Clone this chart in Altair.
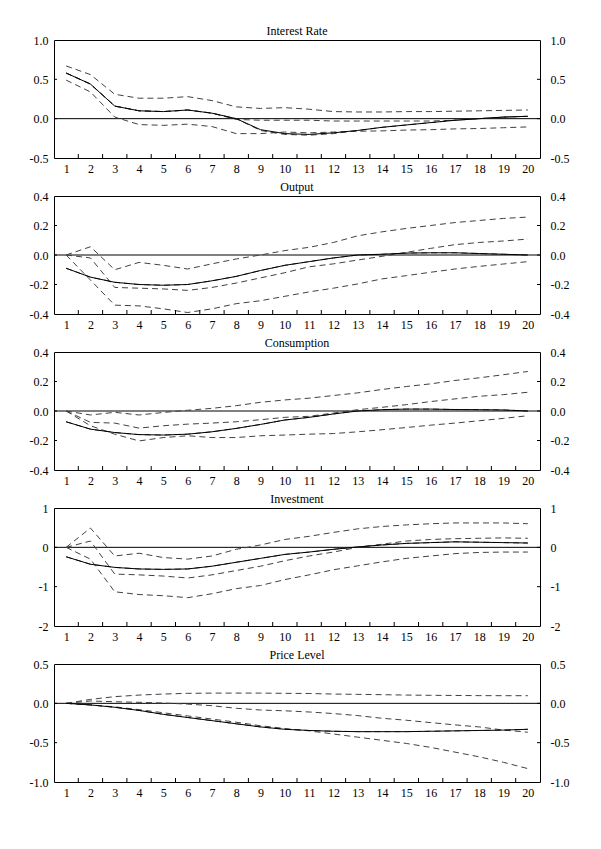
import altair as alt
import pandas as pd

periods = list(range(1, 21))

# Interest Rate
ir_main = [0.58, 0.44, 0.16, 0.10, 0.09, 0.11, 0.07, 0.00, -0.14, -0.19, -0.20, -0.18, -0.15, -0.11, -0.08, -0.05, -0.02, 0.00, 0.02, 0.03]
ir_up = [0.67, 0.56, 0.31, 0.26, 0.26, 0.28, 0.23, 0.15, 0.13, 0.14, 0.12, 0.09, 0.085, 0.085, 0.09, 0.09, 0.095, 0.10, 0.105, 0.11]
ir_mid = [0.58, 0.44, 0.16, 0.10, 0.09, 0.11, 0.07, -0.01, -0.02, -0.02, -0.02, -0.03, -0.03, -0.03, -0.03, -0.03, -0.02, 0.00, 0.02, 0.03]
ir_lo = [0.49, 0.34, 0.02, -0.075, -0.085, -0.07, -0.10, -0.19, -0.19, -0.17, -0.18, -0.17, -0.16, -0.155, -0.145, -0.14, -0.13, -0.125, -0.115, -0.105]
ir_alt = [0.58, 0.44, 0.16, 0.10, 0.09, 0.11, 0.07, 0.00, -0.15, -0.20, -0.21, -0.19, -0.15, -0.11, -0.08, -0.05, -0.02, 0.00, 0.02, 0.03]

# Output
out_main = [-0.09, -0.15, -0.185, -0.20, -0.205, -0.20, -0.175, -0.145, -0.105, -0.07, -0.045, -0.02, 0.0, 0.005, 0.013, 0.015, 0.015, 0.01, 0.005, 0.0]
out_up = [0.0, 0.056, -0.10, -0.05, -0.07, -0.095, -0.06, -0.027, 0.0, 0.03, 0.052, 0.085, 0.13, 0.157, 0.18, 0.20, 0.22, 0.234, 0.248, 0.257]
out_mid = [0.0, -0.02, -0.22, -0.225, -0.23, -0.24, -0.22, -0.19, -0.155, -0.12, -0.08, -0.06, -0.034, -0.009, 0.018, 0.045, 0.07, 0.085, 0.095, 0.108]
out_lo = [0.0, -0.17, -0.34, -0.345, -0.365, -0.39, -0.365, -0.33, -0.31, -0.28, -0.25, -0.225, -0.196, -0.162, -0.14, -0.117, -0.095, -0.077, -0.061, -0.045]
out_alt = out_main

# Consumption
con_main = [-0.073, -0.123, -0.146, -0.16, -0.163, -0.157, -0.141, -0.118, -0.091, -0.061, -0.043, -0.02, 0.0, 0.009, 0.013, 0.013, 0.01, 0.009, 0.007, 0.0]
con_up = [0.0, -0.027, -0.009, -0.027, -0.01, 0.005, 0.018, 0.036, 0.059, 0.075, 0.087, 0.105, 0.123, 0.146, 0.166, 0.184, 0.207, 0.225, 0.246, 0.268]
con_mid = [0.0, -0.077, -0.082, -0.116, -0.10, -0.089, -0.082, -0.073, -0.059, -0.043, -0.036, -0.014, 0.009, 0.025, 0.043, 0.064, 0.082, 0.10, 0.111, 0.127]
con_lo = [0.0, -0.10, -0.157, -0.203, -0.18, -0.168, -0.18, -0.18, -0.168, -0.163, -0.157, -0.153, -0.141, -0.127, -0.112, -0.096, -0.082, -0.066, -0.05, -0.032]
con_alt = con_main

# Investment
inv_main = [-0.24, -0.43, -0.51, -0.55, -0.56, -0.55, -0.48, -0.38, -0.28, -0.18, -0.12, -0.05, 0.01, 0.06, 0.10, 0.12, 0.14, 0.13, 0.12, 0.11]
inv_up = [0.0, 0.49, -0.22, -0.15, -0.26, -0.30, -0.22, -0.05, 0.06, 0.20, 0.28, 0.38, 0.47, 0.53, 0.57, 0.60, 0.62, 0.62, 0.62, 0.60]
inv_mid = [0.0, 0.16, -0.68, -0.70, -0.73, -0.78, -0.70, -0.59, -0.48, -0.34, -0.22, -0.12, 0.0, 0.08, 0.16, 0.20, 0.22, 0.23, 0.24, 0.23]
inv_lo = [0.0, -0.30, -1.13, -1.20, -1.23, -1.28, -1.18, -1.05, -0.97, -0.82, -0.70, -0.57, -0.47, -0.37, -0.28, -0.22, -0.16, -0.13, -0.12, -0.12]
inv_alt = inv_main

# Price Level
pr_main = [0.0, -0.02, -0.05, -0.09, -0.14, -0.18, -0.22, -0.26, -0.30, -0.33, -0.345, -0.355, -0.36, -0.36, -0.36, -0.355, -0.35, -0.345, -0.34, -0.33]
pr_up = [0.0, 0.05, 0.085, 0.105, 0.118, 0.127, 0.13, 0.13, 0.13, 0.127, 0.125, 0.118, 0.114, 0.11, 0.105, 0.102, 0.10, 0.098, 0.097, 0.097]
pr_mid = [0.0, 0.03, 0.02, 0.013, 0.004, -0.01, -0.03, -0.063, -0.085, -0.095, -0.11, -0.13, -0.156, -0.19, -0.215, -0.245, -0.274, -0.30, -0.34, -0.367]
pr_lo = [0.0, -0.02, -0.045, -0.08, -0.12, -0.16, -0.20, -0.24, -0.285, -0.32, -0.35, -0.39, -0.43, -0.47, -0.51, -0.56, -0.62, -0.68, -0.75, -0.83]
pr_alt = pr_main

titles = ["Interest Rate", "Output", "Consumption", "Investment", "Price Level"]
domains = [[-0.5, 1.0], [-0.4, 0.4], [-0.4, 0.4], [-2, 1], [-1.0, 0.5]]
tick_values = [
    [-0.5, 0.0, 0.5, 1.0],
    [-0.4, -0.2, 0.0, 0.2, 0.4],
    [-0.4, -0.2, 0.0, 0.2, 0.4],
    [-2, -1, 0, 1],
    [-1.0, -0.5, 0.0, 0.5],
]
formats = [".1f", ".1f", ".1f", "d", ".1f"]
series = [
    (ir_main, ir_up, ir_mid, ir_lo, ir_alt),
    (out_main, out_up, out_mid, out_lo, out_alt),
    (con_main, con_up, con_mid, con_lo, con_alt),
    (inv_main, inv_up, inv_mid, inv_lo, inv_alt),
    (pr_main, pr_up, pr_mid, pr_lo, pr_alt),
]

W, H = 486, 118
FONT = "Liberation Serif"
MINUS = "\u2212"
x_ticks = [i + 0.5 for i in range(1, 20)]


def panel(title, dom, tvals, fmt, data):
    main, up, mid, lo, alt_s = data
    rows = []
    for name, vals in [("up", up), ("mid", mid), ("lo", lo), ("alt", alt_s)]:
        for t, v in zip(periods, vals):
            rows.append({"t": t, "v": v, "s": name})
    df_dash = pd.DataFrame(rows)
    df_main = pd.DataFrame({"t": periods, "v": main})
    label_expr = f"replace(format(datum.value, '{fmt}'), '{MINUS}', '-')"
    xscale = alt.Scale(domain=[0.5, 20.5], nice=False, zero=False)
    yscale = alt.Scale(domain=dom, nice=False, zero=False)
    xaxis = alt.Axis(values=periods, ticks=False, domain=False, grid=False,
                     labelPadding=5, title=None, format="d", labelFlush=False,
                     labelFont=FONT, labelFontSize=12, labelColor="black")
    xenc = alt.X("t:Q", scale=xscale, axis=xaxis)

    left_axis = alt.Axis(values=tvals, ticks=False, domain=False, grid=False, title=None,
                         labelPadding=6, labelExpr=label_expr, orient="left", labelFlush=False,
                         labelFont=FONT, labelFontSize=12, labelColor="black")
    right_axis = alt.Axis(values=tvals, ticks=False, domain=False, grid=False, title=None,
                          labelPadding=10, labelExpr=label_expr, orient="right", labelFlush=False,
                          labelFont=FONT, labelFontSize=12, labelColor="black")

    zero = alt.Chart(pd.DataFrame({"v": [0.0]})).mark_rule(color="black", strokeWidth=1).encode(
        y=alt.Y("v:Q", scale=yscale, axis=None))
    dashed = alt.Chart(df_dash).mark_line(strokeDash=[6, 4], color="#404048", strokeWidth=1).encode(
        x=xenc, y=alt.Y("v:Q", scale=yscale, axis=None), detail="s:N")
    solid = alt.Chart(df_main).mark_line(color="black", strokeWidth=1).encode(
        x=xenc, y=alt.Y("v:Q", scale=yscale, axis=left_axis))
    right = alt.Chart(df_main).mark_line(opacity=0).encode(
        x=xenc, y=alt.Y("v:Q", scale=yscale, axis=right_axis))
    xt = alt.Chart(pd.DataFrame({"t": x_ticks})).mark_rule(color="black").encode(
        x=xenc, y=alt.value(H), y2=alt.value(H - 4))
    inner = [v for v in tvals if v not in (dom[0], dom[1])]
    ytl = alt.Chart(pd.DataFrame({"v": inner})).mark_rule(color="black").encode(
        y=alt.Y("v:Q", scale=yscale, axis=None), x=alt.value(0), x2=alt.value(3))
    ytr = alt.Chart(pd.DataFrame({"v": inner})).mark_rule(color="black").encode(
        y=alt.Y("v:Q", scale=yscale, axis=None), x=alt.value(W - 3), x2=alt.value(W))
    ttl = alt.Chart(pd.DataFrame({"label": [title]})).mark_text(
        font=FONT, fontSize=12, color="black", align="center", baseline="alphabetic"
    ).encode(text="label:N", x=alt.value(W / 2), y=alt.value(-5))

    return alt.layer(zero, dashed, solid, right, xt, ytl, ytr, ttl).resolve_scale(
        y="independent").properties(width=W, height=H)


charts = [panel(titles[i], domains[i], tick_values[i], formats[i], series[i]) for i in range(5)]

chart = alt.vconcat(*charts, spacing=38, bounds="flush").properties(
    padding={"top": 16, "left": 20, "right": 5, "bottom": 5}
).configure_view(stroke="black", strokeWidth=1)

chart.save("out.html", embed_options={"renderer": "svg", "actions": False})
